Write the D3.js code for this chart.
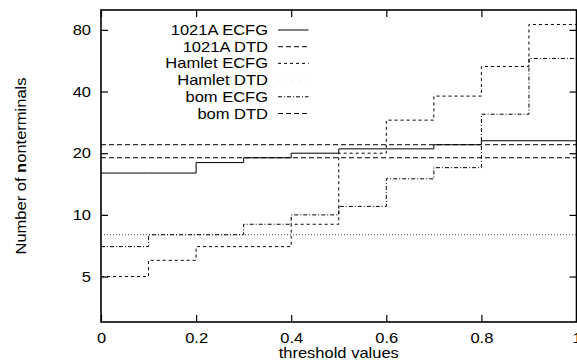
<!DOCTYPE html>
<html>
<head>
<meta charset="utf-8">
<script src="https://cdn.jsdelivr.net/npm/d3@7"></script>
<style>
  body { margin: 0; background: #fff; }
  svg { display: block; }
  text { font-family: "Liberation Sans", Arial, Helvetica, sans-serif; font-size: 14px; fill: #000; }
</style>
</head>
<body>
<script>
const W = 577, H = 362;
const plotLeft = 101, plotRight = 576.5, plotTop = 10, plotBottom = 322;
const sx = 1.18; // the reference font is a bit wide

// data: number of nonterminals per threshold value (steps)
const thresholds = [0, 0.1, 0.2, 0.3, 0.4, 0.5, 0.6, 0.7, 0.8, 0.9, 1.0];
const ecfg1021A  = [16, 16, 18, 19, 20, 21, 21, 22, 23, 23, 23];
const dtd1021A   = [22, 22, 22, 22, 22, 22, 22, 22, 22, 22, 22];
const hamletEcfg = [5, 6, 7, 7, 9, 20, 29, 38, 53, 85, 85];
const hamletDtd  = [8, 8, 8, 8, 8, 8, 8, 8, 8, 8, 8];
const bomEcfg    = [7, 8, 8, 9, 10, 11, 15, 17, 31, 58, 58];
const bomDtd     = [19, 19, 19, 19, 19, 19, 19, 19, 19, 19, 19];

const seriesNames = ["1021A ECFG", "1021A DTD", "Hamlet ECFG", "Hamlet DTD", "bom ECFG", "bom DTD"];
const seriesData = [ecfg1021A, dtd1021A, hamletEcfg, hamletDtd, bomEcfg, bomDtd];
const dashes = [null, "5,3", "3,3", "1,2", "4,2,1,2", "5,3"];
const strokes = ["#000", "#000", "#000", "#555", "#000", "#000"];

const xTicks = [0, 0.2, 0.4, 0.6, 0.8, 1];
const yTicks = [5, 10, 20, 40, 80];

const svg = d3.select("body").append("svg")
    .attr("width", W)
    .attr("height", H);

const x = d3.scaleLinear().domain([0, 1]).range([plotLeft, plotRight]);
const y = d3.scaleLog().domain([3, 100]).range([plotBottom, plotTop]);

// series
const line = d3.line()
    .x((d, i) => x(thresholds[i]))
    .y(d => y(d))
    .curve(d3.curveStepAfter);

seriesData.forEach(function (s, k) {
    svg.append("path")
        .attr("d", line(s))
        .attr("fill", "none")
        .attr("stroke", strokes[k])
        .attr("stroke-width", 1)
        .attr("stroke-dasharray", dashes[k]);
});

// axes, ticks point inward, mirrored on opposite side
svg.append("g")
    .attr("transform", "translate(0," + plotBottom + ")")
    .call(d3.axisBottom(x).tickValues(xTicks).tickFormat(d3.format("")).tickSizeInner(-7).tickSizeOuter(0).tickPadding(11));
svg.append("g")
    .attr("transform", "translate(" + plotLeft + ",0)")
    .call(d3.axisLeft(y).tickValues(yTicks).tickFormat(d3.format("d")).tickSizeInner(-7).tickSizeOuter(0).tickPadding(8.5));
svg.append("g")
    .attr("transform", "translate(0," + plotTop + ")")
    .call(d3.axisTop(x).tickValues(xTicks).tickFormat("").tickSizeInner(-7).tickSizeOuter(0));
svg.append("g")
    .attr("transform", "translate(" + plotRight + ",0)")
    .call(d3.axisRight(y).tickValues(yTicks).tickFormat("").tickSizeInner(-7).tickSizeOuter(0));

svg.selectAll(".domain").remove();
svg.selectAll(".tick line").attr("stroke", "#000").attr("stroke-width", 1.2);
svg.selectAll(".tick text")
    .attr("fill", "#000")
    .style("font-size", "14px")
    .style("font-family", '"Liberation Sans", Arial, sans-serif')
    .attr("transform", "scale(" + sx + ",1)");

// border
svg.append("rect")
    .attr("x", plotLeft)
    .attr("y", plotTop)
    .attr("width", plotRight - plotLeft)
    .attr("height", plotBottom - plotTop)
    .attr("fill", "none")
    .attr("stroke", "#000")
    .attr("stroke-width", 1.6);

// axis titles
svg.append("text")
    .attr("transform", "translate(" + (plotLeft + plotRight) / 2 + ",358) scale(" + sx + ",1)")
    .attr("text-anchor", "middle")
    .text("threshold values");

const yl = svg.append("text")
    .attr("transform", "translate(26," + (plotTop + plotBottom) / 2 + ") rotate(-90) scale(" + sx + ",1)")
    .attr("text-anchor", "middle");
yl.append("tspan").text("Number of ");
yl.append("tspan").attr("font-weight", "bold").text("n");
yl.append("tspan").text("onterminals");

// legend
const legend = svg.append("g");
seriesNames.forEach(function (name, k) {
    const ly = 30 + k * 16.7;
    legend.append("text")
        .attr("transform", "translate(268," + (ly + 5) + ") scale(" + sx + ",1)")
        .attr("text-anchor", "end")
        .text(name);
    legend.append("line")
        .attr("x1", 278).attr("x2", 308.5)
        .attr("y1", ly).attr("y2", ly)
        .attr("stroke", k === 3 ? "#ccc" : strokes[k])
        .attr("stroke-width", 1)
        .attr("stroke-dasharray", k === 3 ? "1,6" : dashes[k]);
});
</script>
</body>
</html>
